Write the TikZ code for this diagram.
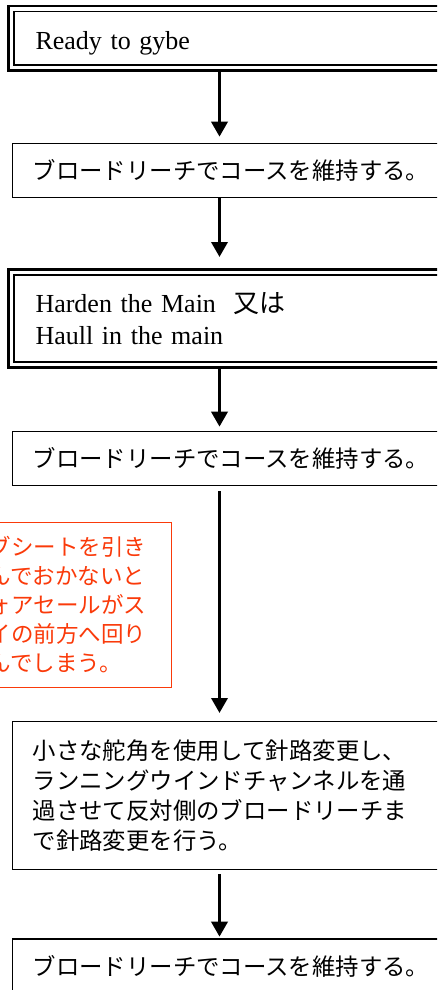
\documentclass[tikz,border=0pt]{standalone}
\usepackage{fontspec}
\setmainfont{Liberation Serif}
\newfontfamily\jp{Noto Sans CJK JP}
\usetikzlibrary{arrows.meta}
\definecolor{warn}{RGB}{250,58,10}
\begin{document}
\begin{tikzpicture}[x=1pt,y=-1pt,
  sbox/.style={draw, line width=1.4pt, anchor=north west, inner xsep=20pt, inner ysep=0pt,
    text width=420pt, align=left, font=\jp\fontsize{23.4}{30}\selectfont},
  dbox/.style={draw, line width=1.6pt, anchor=north west, inner xsep=21.5pt, inner ysep=0pt,
    text width=420pt, align=left, font=\fontsize{26}{32}\selectfont},
  outer/.style={line width=2.6pt},
  note/.style={draw=warn, text=warn, line width=1pt, anchor=north east, inner xsep=25pt, inner ysep=0pt,
    text width=180pt, align=left, font=\jp\fontsize{22.5}{29}\selectfont},
  flow/.style={line width=3.5pt, -{Triangle[width=16pt,length=15pt]}}]
\useasboundingbox (0,0) rectangle (437,990);
\clip (0,0) rectangle (437,990);
\coordinate (ax) at (219.5,0);
% boxes
\node[dbox, minimum height=53.4pt, text height=25pt, text depth=3.4pt] (b1) at (13.2,10.8) {Ready to gybe};
\draw[outer] ([xshift=-4.6pt,yshift=4.6pt]b1.north west) rectangle ([xshift=4.6pt,yshift=-5pt]b1.south east);
\node[sbox, minimum height=54pt] (b2) at (12,142.7) {ブロードリーチでコースを維持する。};
\node[dbox, minimum height=87pt] (b3) at (13.2,274) {Harden the Main~~{\jp 又は}\\Haull in the main};
\draw[outer] ([xshift=-4.6pt,yshift=4.6pt]b3.north west) rectangle ([xshift=4.6pt,yshift=-4.6pt]b3.south east);
\node[sbox, minimum height=54pt] (b4) at (12,431) {ブロードリーチでコースを維持する。};
\node[note, minimum height=165pt] (n1) at (172,522) {ジブシートを引き\\込んでおかないと\\フォアセールがス\\テイの前方へ回り\\込んでしまう。};
\node[sbox, minimum height=148pt] (b5) at (12,721) {小さな舵角を使用して針路変更し、\\ランニングウインドチャンネルを通\\過させて反対側のブロードリーチま\\で針路変更を行う。};
\node[sbox, minimum height=54pt] (b6) at (12,938.3) {ブロードリーチでコースを維持する。};
% connectors
\draw[flow, shorten <=6pt, shorten >=6pt] (b1.south -| ax) -- (b2.north -| ax);
\draw[flow, shorten <=0pt, shorten >=17pt] (b2.south -| ax) -- (b3.north -| ax);
\draw[flow, shorten <=4.5pt, shorten >=4.3pt] (b3.south -| ax) -- (b4.north -| ax);
\draw[flow, shorten <=5pt, shorten >=8pt] (b4.south -| ax) -- (b5.north -| ax);
\draw[flow, shorten <=3.7pt, shorten >=1.6pt] (b5.south -| ax) -- (b6.north -| ax);
\end{tikzpicture}
\end{document}
